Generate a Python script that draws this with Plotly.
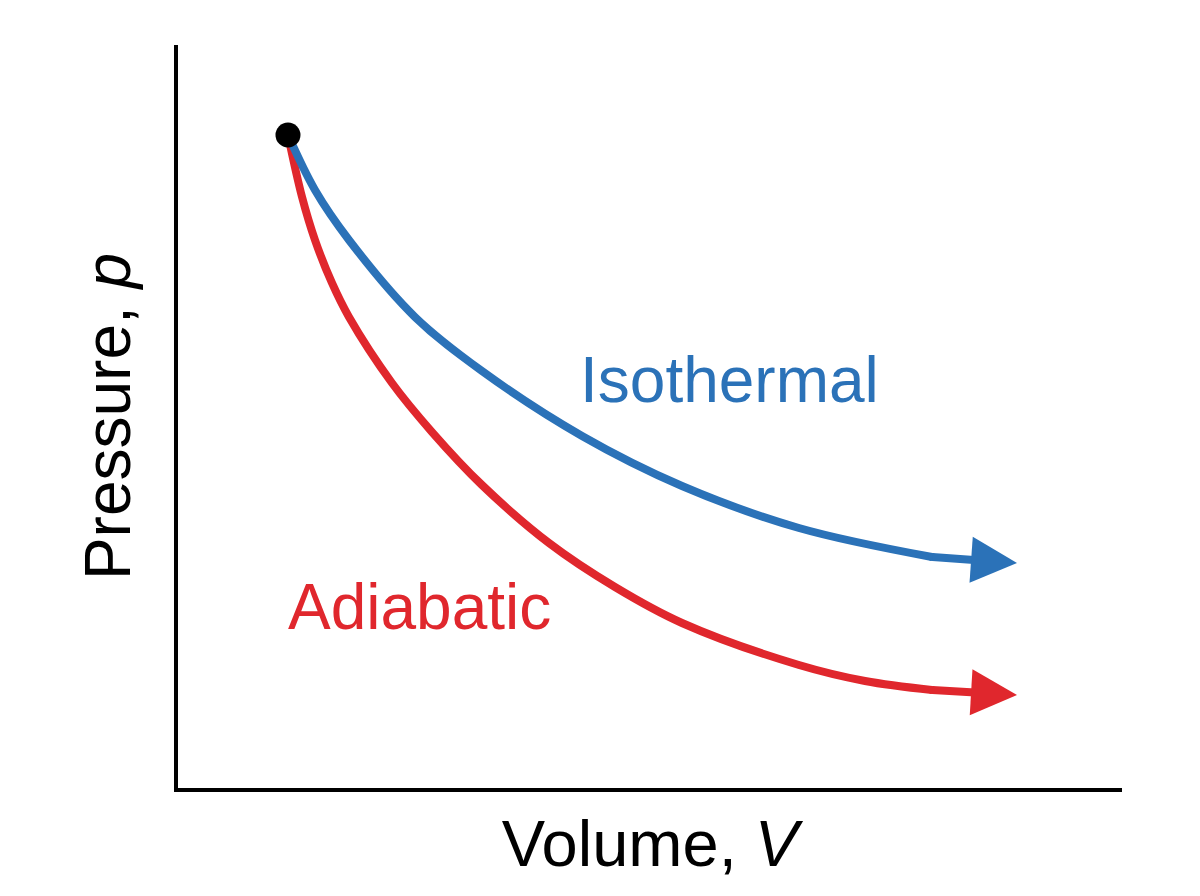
# p-V diagram: isothermal vs adiabatic expansion from a common start point
import plotly.graph_objects as go

# values (arbitrary units, axes 0..10)
V_iso = [1.165, 1.451, 1.811, 2.511, 3.220, 4.280, 5.339, 6.578, 7.987, 8.888]
p_iso = [8.789, 8.048, 7.376, 6.339, 5.612, 4.738, 4.065, 3.499, 3.109, 3.028]

V_adi = [1.165, 1.314, 1.451, 1.631, 1.811, 2.267, 2.691, 3.220, 3.930, 4.629,
         5.339, 6.578, 7.278, 7.987, 8.888]
p_adi = [8.789, 7.954, 7.376, 6.797, 6.339, 5.451, 4.791, 4.078, 3.297, 2.705,
         2.221, 1.655, 1.440, 1.319, 1.252]

labels = ["Isothermal", "Adiabatic"]
label_V = [5.84, 2.56]
label_p = [5.49, 2.44]

blue = "#2b72b8"
red = "#e0272d"
font = "Liberation Sans, Arial, sans-serif"
lw = 8

fig = go.Figure()

# curves stop one point short; the arrow annotation draws the last leg
for Vs, ps, col in [(V_adi, p_adi, red), (V_iso, p_iso, blue)]:
    fig.add_trace(go.Scatter(x=Vs[:-1], y=ps[:-1], mode="lines",
                             line=dict(color=col, width=lw, shape="spline", smoothing=1),
                             hoverinfo="skip"))
    # round dot over the joint between curve and arrow leg
    fig.add_trace(go.Scatter(x=[Vs[-2]], y=[ps[-2]], mode="markers",
                             marker=dict(color=col, size=lw), hoverinfo="skip"))

# start point
fig.add_trace(go.Scatter(x=[V_iso[0]], y=[p_iso[0]], mode="markers",
                         marker=dict(color="black", size=25), hoverinfo="skip"))

for Vs, ps, col in [(V_iso, p_iso, blue), (V_adi, p_adi, red)]:
    fig.add_annotation(x=Vs[-1], y=ps[-1], ax=Vs[-2], ay=ps[-2],
                       xref="x", yref="y", axref="x", ayref="y",
                       showarrow=True, arrowhead=2, arrowwidth=lw, arrowsize=1.15,
                       arrowcolor=col, text="", font=dict(size=1), borderpad=0)

for txt, vx, py, col in zip(labels, label_V, label_p, [blue, red]):
    fig.add_annotation(x=vx, y=py, text=txt, showarrow=False,
                       font=dict(family=font, size=64, color=col))

fig.update_layout(
    width=1200, height=896,
    margin=dict(l=170, r=86, t=37, b=116),
    paper_bgcolor="white", plot_bgcolor="white",
    showlegend=False,
    font=dict(family=font, color="black"),
)
fig.update_xaxes(range=[0, 10], showline=True, linecolor="black", linewidth=4,
                 showgrid=False, zeroline=False, showticklabels=False, ticks="",
                 title=dict(text="Volume, <i>V</i>", font=dict(size=65), standoff=30))
fig.update_yaxes(range=[0, 10], showline=True, linecolor="black", linewidth=4,
                 showgrid=False, zeroline=False, showticklabels=False, ticks="",
                 title=dict(text="Pressure, <i>p</i>", font=dict(size=64), standoff=24))

fig.write_html("out.html")
